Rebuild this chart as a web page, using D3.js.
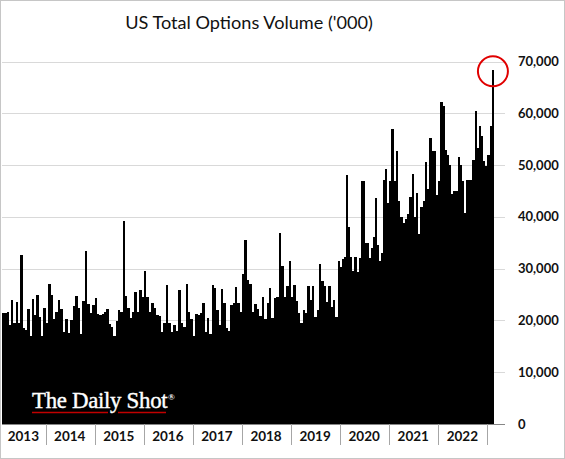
<!DOCTYPE html>
<html><head><meta charset="utf-8">
<script src="https://cdn.jsdelivr.net/npm/d3@7"></script>
<style>body{margin:0;background:#fff}svg{display:block}</style>
</head><body><svg id="c" width="565" height="459"></svg>
<script>
// ---- data (values in '000 contracts) ----
const title = "US Total Options Volume ('000)";
const yearLabels = ["2013","2014","2015","2016","2017","2018","2019","2020","2021","2022"];
const yTicks = [0,10000,20000,30000,40000,50000,60000,70000];
const vol2013 = [21500,21500,21700,19100,23900,19500,23500,19500,32600,18500,18200,22200,17000,24200,21100,25000,20700,16900,22400];
const vol2014 = [19500,27100,25000,20300,21700,23900,22200,17800,20200,17600,20100,22800,24800,22400,17400,23800,33500,23200,21500,23000];
const vol2015 = [24300,21300,21100,21300,21700,22200,19400,18800,16900,19800,22000,21700,39200,24800,22400,20400,21700,25500,21700,25800,24600];
const vol2016 = [29500,24600,21700,23300,22400,21100,20900,17800,19500,26900,19500,17800,19200,18000,25900,19600,18800,27000,21700,20200];
const vol2017 = [16900,21300,21100,21400,23300,17800,20400,17300,26900,26200,22000,19200,26100,23300,18600,18000,23000,23300,26400,23300,21600];
const vol2018 = [29000,35600,27900,27100,21700,23100,22200,20900,24600,20200,23300,26200,20400,24300,24600,36900,30600,24600,26600,31400];
const vol2019 = [24600,26900,23700,21500,19500,22000,21500,26600,24000,26600,20700,22000,30900,27700,26600,23500,26600,22500,24000,20700,31400];
const vol2020 = [30400,31800,32200,48000,38000,32300,29500,32200,29300,32100,46900,46900,34900,34900,32100,34000,36100,43600,34500,31400,33000,47200,49300,42700];
const vol2021 = [46900,57000,46900,52700,43000,40000,38800,39500,40600,43800,48200,40000,44600,36600,42000,43000,50600,45300,55300,52700,52700,44300];
const vol2022 = [47000,62100,61500,53000,52000,50100,44400,44900,44900,51600,50100,46900,40700,47200,47200,47200,51000,60400,53300,57600,55700,50700,49800];
const vol2023 = [52000,57500,68300];

// ---- layout ----
const W = 565, H = 459;
const plotLeft = 2, plotRight = 505, base = 424;
const svg = d3.select("#c");
svg.append("rect").attr("x",0.5).attr("y",0.5).attr("width",W-1).attr("height",H-1)
  .attr("fill","#fff").attr("stroke","#c6c6c6");

const x = d3.scaleLinear().domain([2013,2023]).range([-3.4,487.4]);
const y = d3.scaleLinear().domain([0,70000]).range([base,61.5]);

// gridlines
svg.append("g").selectAll("line").data(yTicks.filter(d=>d>0)).join("line")
  .attr("x1",plotLeft).attr("x2",plotRight)
  .attr("y1",d=>Math.round(y(d))+0.5).attr("y2",d=>Math.round(y(d))+0.5)
  .attr("stroke","#d9d9d9").attr("stroke-width",1);

// bars
const series = [
  {from:2013.11, to:2014, vals:vol2013},
  {from:2014, to:2015, vals:vol2014},
  {from:2015, to:2016, vals:vol2015},
  {from:2016, to:2017, vals:vol2016},
  {from:2017, to:2018, vals:vol2017},
  {from:2018, to:2019, vals:vol2018},
  {from:2019, to:2020, vals:vol2019},
  {from:2020, to:2021, vals:vol2020},
  {from:2021, to:2022, vals:vol2021},
  {from:2022, to:2023, vals:vol2022},
  {from:2023, to:2023.135, vals:vol2023}
];
const bars = [];
series.forEach(s => {
  const n = s.vals.length, step = (s.to - s.from)/n;
  s.vals.forEach((v,i) => bars.push({t0:s.from+i*step, t1:s.from+(i+1)*step, v}));
});
svg.append("g").attr("shape-rendering","crispEdges")
  .selectAll("rect").data(bars).join("rect")
  .attr("x",d=>Math.round(x(d.t0)))
  .attr("width",d=>Math.max(1, Math.round(x(d.t1)) - Math.round(x(d.t0))))
  .attr("y",d=>y(d.v)).attr("height",d=>y(0)-y(d.v))
  .attr("fill","#000");

// axis baseline
svg.append("line").attr("x1",plotLeft).attr("x2",plotRight)
  .attr("y1",base+0.5).attr("y2",base+0.5).attr("stroke","#868686");

// year boxes
const yrs = yearLabels.map(Number);
svg.append("g").selectAll("line").data(yrs.slice(1).concat([2023])).join("line")
  .attr("x1",d=>Math.round(x(d))+0.5).attr("x2",d=>Math.round(x(d))+0.5)
  .attr("y1",base).attr("y2",445).attr("stroke","#a6a6a6");
svg.append("g").selectAll("text").data(yearLabels).join("text")
  .attr("x",d=>(Math.max(x(+d),plotLeft)+x(+d+1))/2 - 0.5)
  .attr("y",436).attr("dy","0.35em").attr("text-anchor","middle")
  .attr("font-family","Lato, 'Open Sans', sans-serif").attr("font-weight","bold")
  .attr("font-size",13.5).attr("fill","#111").text(d=>d);

// y tick labels (right)
svg.append("g").selectAll("text").data(yTicks).join("text")
  .attr("x",518).attr("y",d=>y(d)).attr("dy","0.35em")
  .attr("font-family","Lato, 'Open Sans', sans-serif").attr("font-weight","bold")
  .attr("font-size",13).attr("fill","#111").text(d=>d3.format(",")(d));

// title
const t = svg.append("text").attr("x",249).attr("y",29).attr("text-anchor","middle")
  .attr("font-family","Lato, 'Open Sans', sans-serif").attr("font-size",20)
  .attr("fill","#111").text(title);
const tw = t.node().getComputedTextLength();
t.attr("font-size", 20*248/tw);

// watermark
const wm = svg.append("text").attr("x",32).attr("y",408)
  .attr("font-family","'Liberation Serif','DejaVu Serif',serif").attr("font-size",21)
  .attr("fill","#fff").attr("stroke","#fff").attr("stroke-width",0.4)
  .attr("letter-spacing",-0.3).text("The Daily Shot");
const ww = wm.node().getComputedTextLength();
wm.attr("font-size", 21*135/ww);
svg.append("text").attr("x",168).attr("y",400)
  .attr("font-family","'Liberation Serif',serif").attr("font-size",9).attr("font-weight","bold")
  .attr("fill","#fff").text("®");
svg.append("line").attr("x1",32).attr("x2",108).attr("y1",412.5).attr("y2",412.5)
  .attr("stroke","#c00000").attr("stroke-width",1.5);
svg.append("line").attr("x1",118).attr("x2",166).attr("y1",412.5).attr("y2",412.5)
  .attr("stroke","#c00000").attr("stroke-width",1.5);

// red circle at latest value
const last = bars[bars.length-1];
svg.append("circle").attr("cx",(x(last.t0)+x(last.t1))/2).attr("cy",y(last.v)+1)
  .attr("r",15).attr("fill","none").attr("stroke","#e00000").attr("stroke-width",2);
</script>
</body></html>
